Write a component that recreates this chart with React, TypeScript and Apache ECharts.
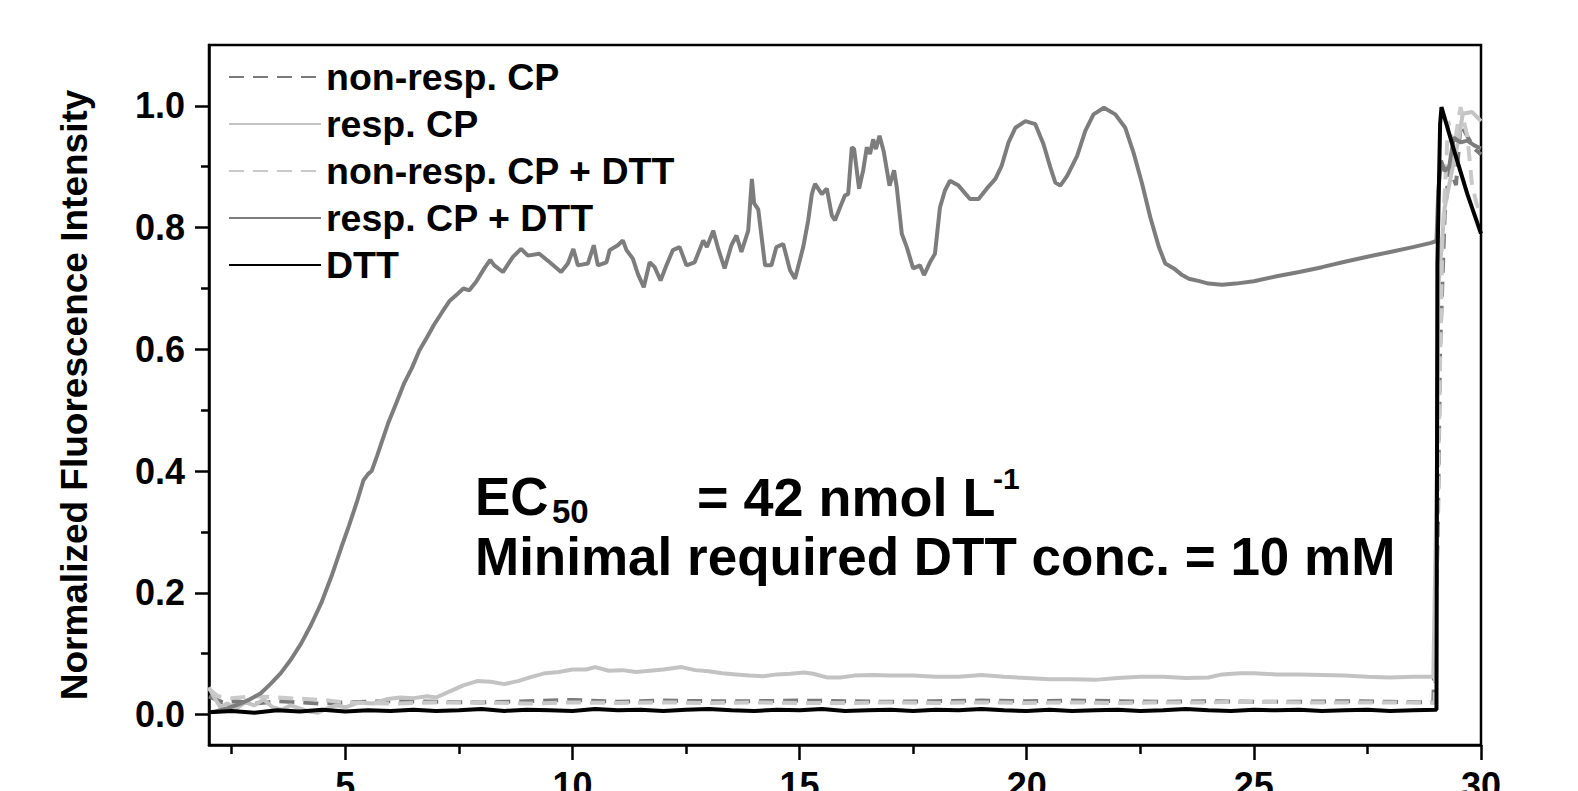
import React, { useEffect, useRef } from "react";
import * as echarts from "echarts";

const FONT = '"Liberation Sans", Arial, Helvetica, sans-serif';

const xRange = [2, 30];
const yRange = [-0.05, 1.1];
const xMajorTicks = [5, 10, 15, 20, 25, 30];
const xMinorTicks = [2.5, 7.5, 12.5, 17.5, 22.5, 27.5];
const yMajorTicks = [0, 0.2, 0.4, 0.6, 0.8, 1.0];
const yMinorTicks = [0.1, 0.3, 0.5, 0.7, 0.9];

const yAxisTitle = "Normalized Fluorescence Intensity";
const seriesNames = ["non-resp. CP", "resp. CP", "non-resp. CP + DTT", "resp. CP + DTT", "DTT"];
const seriesColors = ["#7a7a7a", "#c3c3c3", "#cacaca", "#7d7d7d", "#000000"];
const seriesDashed = [true, false, true, false, false];

const nonRespCP: number[][] = [
  [2.0, 0.03], [2.3, 0.02], [2.6, 0.022], [3.0, 0.018], [3.5, 0.022], [4.0, 0.02], [4.5, 0.018],
  [5.0, 0.02], [6, 0.022], [7, 0.021], [8, 0.02], [9, 0.022], [10, 0.024], [11, 0.021], [12, 0.023],
  [13, 0.022], [14, 0.022], [15, 0.023], [16, 0.022], [17, 0.021], [18, 0.022], [19, 0.023],
  [20, 0.022], [21, 0.023], [22, 0.022], [23, 0.021], [24, 0.022], [25, 0.021], [26, 0.021],
  [27, 0.022], [28, 0.021], [28.95, 0.02], [29.05, 0.3], [29.1, 0.6], [29.2, 0.82], [29.3, 0.9],
  [29.45, 0.87], [29.55, 0.97], [29.7, 0.95], [29.85, 0.93], [30.0, 0.92],
];

const respCP: number[][] = [
  [2.0, 0.045], [2.1, 0.03], [2.25, 0.012], [2.4, 0.018], [2.6, 0.01], [2.8, 0.02], [3.0, 0.015],
  [3.2, 0.025], [3.4, 0.012], [3.6, 0.008], [3.8, 0.015], [4.0, 0.01], [4.2, 0.005], [4.4, 0.003],
  [4.6, 0.01], [4.8, 0.015], [5.0, 0.012], [5.3, 0.02], [5.6, 0.018], [5.9, 0.025], [6.2, 0.028],
  [6.5, 0.027], [6.8, 0.03], [7.0, 0.028], [7.3, 0.038], [7.6, 0.048], [7.9, 0.055], [8.2, 0.054],
  [8.5, 0.05], [8.8, 0.055], [9.1, 0.062], [9.4, 0.068], [9.7, 0.07], [10.0, 0.074], [10.3, 0.074],
  [10.5, 0.078], [10.8, 0.072], [11.1, 0.073], [11.4, 0.07], [11.7, 0.072], [12.0, 0.074],
  [12.4, 0.078], [12.7, 0.073], [13.0, 0.071], [13.3, 0.068], [13.6, 0.066], [13.9, 0.064],
  [14.2, 0.063], [14.5, 0.066], [14.8, 0.067], [15.1, 0.069], [15.3, 0.067], [15.6, 0.061],
  [15.9, 0.061], [16.2, 0.064], [16.6, 0.065], [17.0, 0.064], [17.5, 0.064], [18.0, 0.062],
  [18.5, 0.062], [19.0, 0.065], [19.5, 0.062], [20.0, 0.06], [20.5, 0.058], [21.0, 0.058],
  [21.5, 0.057], [22.0, 0.06], [22.5, 0.062], [23.0, 0.062], [23.5, 0.06], [24.0, 0.061],
  [24.3, 0.066], [24.7, 0.068], [25.0, 0.068], [25.5, 0.066], [26.0, 0.066], [26.5, 0.065],
  [27.0, 0.064], [27.5, 0.062], [28.0, 0.061], [28.5, 0.062], [28.95, 0.062], [29.03, 0.4],
  [29.06, 0.7], [29.2, 0.833], [29.35, 0.889], [29.5, 0.943], [29.6, 0.987], [29.8, 0.99], [30.0, 0.975],
];

const nonRespCPDTT: number[][] = [
  [2.0, 0.042], [2.2, 0.03], [2.5, 0.027], [3.0, 0.03], [3.5, 0.028], [4.0, 0.026], [4.5, 0.024],
  [5.0, 0.02], [6, 0.018], [7, 0.02], [8, 0.02], [9, 0.018], [10, 0.02], [11, 0.019], [12, 0.02],
  [13, 0.019], [14, 0.02], [15, 0.019], [16, 0.019], [17, 0.02], [18, 0.019], [19, 0.02], [20, 0.019],
  [21, 0.02], [22, 0.019], [23, 0.02], [24, 0.02], [25, 0.021], [26, 0.02], [27, 0.02], [28, 0.02],
  [28.98, 0.02], [29.08, 0.5], [29.15, 0.78], [29.28, 0.975], [29.4, 0.93], [29.55, 0.998],
  [29.7, 0.95], [29.8, 0.872], [29.9, 0.84], [30.0, 0.82],
];

const respCPDTT: number[][] = [
  [2.0, 0.004], [2.14, 0.005], [2.4, 0.01], [2.69, 0.018], [2.9, 0.025], [3.14, 0.035], [3.35, 0.05],
  [3.58, 0.068], [3.8, 0.09], [4.03, 0.117], [4.25, 0.148], [4.47, 0.183], [4.7, 0.228], [4.91, 0.274],
  [5.08, 0.31], [5.25, 0.348], [5.4, 0.385], [5.5, 0.395], [5.58, 0.4], [5.7, 0.425], [5.8, 0.447],
  [5.95, 0.48], [6.13, 0.513], [6.3, 0.545], [6.47, 0.57], [6.63, 0.598], [6.8, 0.62], [6.95, 0.64],
  [7.13, 0.661], [7.3, 0.68], [7.47, 0.691], [7.6, 0.7], [7.73, 0.697], [7.88, 0.711], [8.06, 0.733],
  [8.19, 0.747], [8.28, 0.738], [8.47, 0.727], [8.69, 0.752], [8.87, 0.765], [9.02, 0.754],
  [9.27, 0.757], [9.5, 0.743], [9.75, 0.727], [9.9, 0.741], [10.02, 0.765], [10.12, 0.738],
  [10.34, 0.741], [10.47, 0.771], [10.56, 0.738], [10.75, 0.743], [10.82, 0.763], [11.0, 0.771],
  [11.11, 0.779], [11.19, 0.763], [11.33, 0.749], [11.44, 0.724], [11.57, 0.702], [11.7, 0.743],
  [11.81, 0.735], [11.94, 0.713], [12.07, 0.738], [12.21, 0.763], [12.36, 0.768], [12.51, 0.738],
  [12.69, 0.743], [12.88, 0.779], [12.96, 0.768], [13.1, 0.795], [13.21, 0.765], [13.35, 0.733],
  [13.5, 0.771], [13.61, 0.787], [13.72, 0.76], [13.87, 0.795], [13.95, 0.88], [14.0, 0.84],
  [14.09, 0.83], [14.24, 0.738], [14.38, 0.738], [14.49, 0.768], [14.64, 0.773], [14.79, 0.73],
  [14.9, 0.716], [15.08, 0.768], [15.19, 0.812], [15.27, 0.855], [15.34, 0.872], [15.49, 0.855],
  [15.6, 0.864], [15.71, 0.82], [15.78, 0.812], [15.89, 0.833], [16.0, 0.853], [16.07, 0.855],
  [16.15, 0.932], [16.2, 0.929], [16.31, 0.864], [16.4, 0.894], [16.48, 0.932], [16.55, 0.921],
  [16.62, 0.945], [16.68, 0.929], [16.76, 0.951], [16.85, 0.926], [16.98, 0.869], [17.08, 0.894],
  [17.14, 0.866], [17.25, 0.79], [17.36, 0.768], [17.5, 0.733], [17.65, 0.738], [17.74, 0.722],
  [17.87, 0.743], [17.98, 0.757], [18.09, 0.833], [18.2, 0.861], [18.31, 0.877], [18.5, 0.869],
  [18.75, 0.847], [18.94, 0.847], [19.12, 0.864], [19.31, 0.88], [19.45, 0.902], [19.6, 0.94],
  [19.75, 0.964], [19.97, 0.975], [20.19, 0.97], [20.37, 0.937], [20.52, 0.899], [20.63, 0.874],
  [20.74, 0.869], [20.89, 0.885], [21.11, 0.918], [21.29, 0.959], [21.47, 0.986], [21.7, 0.997],
  [21.95, 0.986], [22.17, 0.964], [22.36, 0.921], [22.54, 0.872], [22.72, 0.817], [22.91, 0.768],
  [23.05, 0.741], [23.24, 0.733], [23.42, 0.722], [23.57, 0.716], [23.8, 0.712], [24.0, 0.708],
  [24.3, 0.706], [24.6, 0.708], [25.0, 0.712], [25.5, 0.72], [26.0, 0.727], [26.5, 0.735],
  [27.0, 0.744], [27.5, 0.752], [28.0, 0.76], [28.5, 0.768], [28.9, 0.775], [29.02, 0.778],
  [29.06, 0.86], [29.12, 0.91], [29.2, 0.893], [29.3, 0.9], [29.4, 0.948], [29.55, 0.94],
  [29.7, 0.943], [29.85, 0.935], [30.0, 0.93],
];

const dtt: number[][] = [
  [2.0, 0.004], [2.5, 0.006], [3.0, 0.003], [3.5, 0.007], [4.0, 0.005], [4.5, 0.008], [5.0, 0.005],
  [5.5, 0.007], [6.0, 0.006], [6.5, 0.008], [7.0, 0.006], [7.5, 0.007], [8.0, 0.009], [8.5, 0.006],
  [9.0, 0.008], [9.5, 0.007], [10.0, 0.006], [10.5, 0.009], [11.0, 0.007], [11.5, 0.008],
  [12.0, 0.006], [12.5, 0.008], [13.0, 0.009], [13.5, 0.007], [14.0, 0.006], [14.5, 0.008],
  [15.0, 0.007], [15.5, 0.009], [16.0, 0.006], [16.5, 0.007], [17.0, 0.008], [17.5, 0.006],
  [18.0, 0.008], [18.5, 0.007], [19.0, 0.009], [19.5, 0.007], [20.0, 0.006], [20.5, 0.008],
  [21.0, 0.006], [21.5, 0.007], [22.0, 0.008], [22.5, 0.006], [23.0, 0.007], [23.5, 0.009],
  [24.0, 0.007], [24.5, 0.006], [25.0, 0.008], [25.5, 0.007], [26.0, 0.008], [26.5, 0.006],
  [27.0, 0.007], [27.5, 0.008], [28.0, 0.006], [28.5, 0.007], [29.02, 0.008], [29.04, 0.74],
  [29.1, 0.97], [29.13, 0.998], [29.2, 0.98], [29.41, 0.926], [29.7, 0.855], [30.0, 0.79],
];

const seriesData = [nonRespCP, respCP, nonRespCPDTT, respCPDTT, dtt];

export default function App() {
  const ref = useRef<HTMLDivElement>(null);
  useEffect(() => {
    if (!ref.current) return;
    const chart = echarts.init(ref.current, null, { renderer: "svg" });
    const axisLineStyle = { color: "#000", width: 2.5 };
    const labelStyle = { color: "#000", fontSize: 36, fontWeight: "bold" as const, fontFamily: FONT };
    const option: any = {
      animation: false,
      backgroundColor: "#ffffff",
      grid: {
        left: 209, right: 97, top: 45, bottom: 46,
        outerBoundsMode: "none", containLabel: false,
        show: true, borderColor: "#000", borderWidth: 2.5, backgroundColor: "transparent",
      },
      xAxis: [
        {
          type: "value", min: xRange[0], max: xRange[1], position: "bottom", offset: 0,
          axisLine: { show: true, onZero: false, lineStyle: axisLineStyle },
          axisTick: { show: true, customValues: xMajorTicks, length: 15, lineStyle: axisLineStyle },
          axisLabel: { show: true, customValues: xMajorTicks, margin: 22, ...labelStyle },
          splitLine: { show: false },
        },
        {
          type: "value", min: xRange[0], max: xRange[1], position: "bottom", offset: 0,
          axisLine: { show: false, onZero: false },
          axisTick: { show: true, customValues: xMinorTicks, length: 9, lineStyle: axisLineStyle },
          axisLabel: { show: false },
          splitLine: { show: false },
        },
      ],
      yAxis: [
        {
          type: "value", min: yRange[0], max: yRange[1], position: "left", offset: 0,
          name: yAxisTitle, nameLocation: "middle", nameGap: 116,
          nameTextStyle: { color: "#000", fontSize: 37, fontWeight: "bold", fontFamily: FONT },
          axisLine: { show: true, onZero: false, lineStyle: axisLineStyle },
          axisTick: { show: true, customValues: yMajorTicks, length: 14, lineStyle: axisLineStyle },
          axisLabel: {
            show: true, customValues: yMajorTicks, margin: 24, ...labelStyle,
            formatter: (v: number) => v.toFixed(1),
          },
          splitLine: { show: false },
        },
        {
          type: "value", min: yRange[0], max: yRange[1], position: "left", offset: 0,
          axisLine: { show: false, onZero: false },
          axisTick: { show: true, customValues: yMinorTicks, length: 8, lineStyle: axisLineStyle },
          axisLabel: { show: false },
          splitLine: { show: false },
        },
      ],
      legend: {
        orient: "vertical", left: 228, top: 57, padding: 0,
        itemWidth: 92, itemHeight: 2, itemGap: 7,
        itemStyle: { opacity: 0 },
        textStyle: { ...labelStyle, fontSize: 37.5, lineHeight: 40 },
        data: seriesNames,
      },
      graphic: [
        { type: "text", left: 475, top: 470, style: { text: "EC", font: `bold 53px ${FONT}`, fill: "#000" } },
        { type: "text", left: 552, top: 495, style: { text: "50", font: `bold 33px ${FONT}`, fill: "#000" } },
        { type: "text", left: 697, top: 470, style: { text: "= 42 nmol L", font: `bold 54px ${FONT}`, fill: "#000" } },
        { type: "text", left: 993, top: 463, style: { text: "-1", font: `bold 30px ${FONT}`, fill: "#000" } },
        { type: "text", left: 475, top: 530, style: { text: "Minimal required DTT conc. = 10 mM", font: `bold 53px ${FONT}`, fill: "#000" } },
      ],
      series: seriesData.map((d, i) => ({
        name: seriesNames[i],
        type: "line",
        data: d,
        xAxisIndex: 0,
        yAxisIndex: 0,
        symbol: "none",
        showSymbol: false,
        color: seriesColors[i],
        z: 2 + i,
        lineStyle: { color: seriesColors[i], width: 4, type: seriesDashed[i] ? [15, 9] : "solid" },
      })),
    };
    chart.setOption(option);
    return () => chart.dispose();
  }, []);
  return (
    <div
      ref={ref}
      style={{ position: "fixed", left: 0, top: 0, width: 1578, height: 791, background: "#fff" }}
    />
  );
}
